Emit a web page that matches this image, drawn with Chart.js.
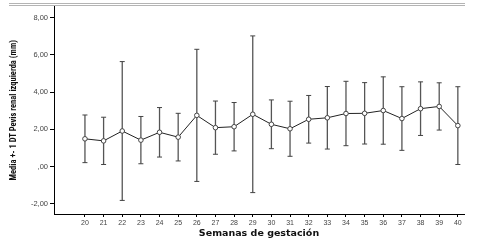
<!DOCTYPE html>
<html>
<head>
<meta charset="utf-8">
<script src="https://cdn.jsdelivr.net/npm/chart.js@4/dist/chart.umd.min.js"></script>
<style>
  html, body { margin: 0; padding: 0; background: #ffffff; }
  #wrap { width: 481px; height: 244px; position: relative; }
</style>
</head>
<body>
<div id="wrap"><canvas id="c"></canvas></div>
<script>
// ---- data ----
const weeks = [20, 21, 22, 23, 24, 25, 26, 27, 28, 29, 30, 31, 32, 33, 34, 35, 36, 37, 38, 39, 40];
const means = [1.49, 1.38, 1.91, 1.42, 1.84, 1.58, 2.75, 2.09, 2.14, 2.81, 2.27, 2.03, 2.54, 2.62, 2.85, 2.86, 3.01, 2.58, 3.11, 3.23, 2.20];
const sds   = [1.28, 1.27, 3.73, 1.27, 1.33, 1.28, 3.55, 1.43, 1.30, 4.21, 1.31, 1.48, 1.28, 1.68, 1.73, 1.65, 1.81, 1.71, 1.44, 1.27, 2.09];
const yTickValues = [-2, 0, 2, 4, 6, 8];
const yTickLabels = ['-2,00', ',00', '2,00', '4,00', '6,00', '8,00'];
const xTickLabels = weeks.map(String);
const yTitle = 'Media +- 1 DT Pevis renal izquierda (mm)';
const xTitle = 'Semanas de gestación';

// ---- derived structures ----
const barSegments = [];
const capPoints = [];
weeks.forEach((w, i) => {
  const lo = means[i] - sds[i], hi = means[i] + sds[i];
  barSegments.push({x: w, y: lo}, {x: w, y: hi}, {x: w, y: null});
  capPoints.push({x: w, y: lo}, {x: w, y: hi});
});
const meanPoints = weeks.map((w, i) => ({x: w, y: means[i]}));

const topRules = {
  id: 'topRules',
  beforeDraw(chart) {
    const ctx = chart.ctx;
    ctx.save();
    ctx.strokeStyle = '#b4b4b4';
    ctx.lineWidth = 1;
    [3.5, 5.5].forEach(y => {
      ctx.beginPath();
      ctx.moveTo(9, y);
      ctx.lineTo(chart.chartArea.right + 1, y);
      ctx.stroke();
    });
    ctx.restore();
  }
};

new Chart(document.getElementById('c'), {
  type: 'scatter',
  data: {
    datasets: [
      {
        data: meanPoints,
        showLine: true,
        borderColor: '#222',
        borderWidth: 1,
        pointRadius: 2.3,
        pointBackgroundColor: '#ffffff',
        pointBorderColor: '#444',
        pointBorderWidth: 1,
        order: 0
      },
      {
        data: barSegments,
        showLine: true,
        spanGaps: false,
        borderColor: '#555',
        borderWidth: 1.3,
        pointRadius: 0,
        order: 2
      },
      {
        data: capPoints,
        showLine: false,
        pointStyle: 'line',
        pointRadius: 2.5,
        borderColor: '#444',
        pointBorderColor: '#444',
        pointBorderWidth: 1,
        order: 1
      }
    ]
  },
  options: {
    responsive: true,
    maintainAspectRatio: false,
    animation: false,
    events: [],
    layout: { padding: { left: 0, right: 17, top: 5, bottom: 0 } },
    plugins: { legend: { display: false }, tooltip: { enabled: false } },
    scales: {
      x: {
        type: 'linear',
        min: 18.34,
        max: 40.33,
        afterBuildTicks(scale) { scale.ticks = weeks.map(v => ({value: v})); },
        afterFit(scale) { scale.height = 30; },
        grid: { drawOnChartArea: false, drawTicks: true, tickLength: 3, color: '#000', lineWidth: 1 },
        border: { display: true, color: '#000', width: 1 },
        ticks: {
          autoSkip: false,
          maxRotation: 0,
          padding: 2,
          color: '#444',
          font: { family: 'Liberation Sans', size: 7 },
          callback: (v) => xTickLabels[weeks.indexOf(v)]
        },
        title: {
          display: true,
          text: xTitle,
          color: '#111',
          font: { family: 'DejaVu Sans', size: 9.5, weight: 'bold', lineHeight: 1 },
          padding: { top: 0, bottom: 6 }
        }
      },
      y: {
        type: 'linear',
        min: -2.55,
        max: 8.6,
        afterBuildTicks(scale) { scale.ticks = yTickValues.map(v => ({value: v})); },
        afterFit(scale) { scale.width = 54; },
        grid: { drawOnChartArea: false, drawTicks: true, tickLength: 4, color: '#000', lineWidth: 1 },
        border: { display: true, color: '#000', width: 1 },
        ticks: {
          padding: 2,
          color: '#444',
          font: { family: 'Liberation Sans', size: 7.5 },
          callback: (v) => yTickLabels[yTickValues.indexOf(v)]
        },
        title: {
          display: true,
          text: yTitle,
          color: '#111',
          font: { family: "'Roboto Condensed', 'Liberation Sans Narrow', Roboto, sans-serif", size: 8.5, weight: 'bold', lineHeight: 1 },
          padding: { top: 10, bottom: 0 }
        }
      }
    }
  },
  plugins: [topRules]
});
</script>
</body>
</html>
